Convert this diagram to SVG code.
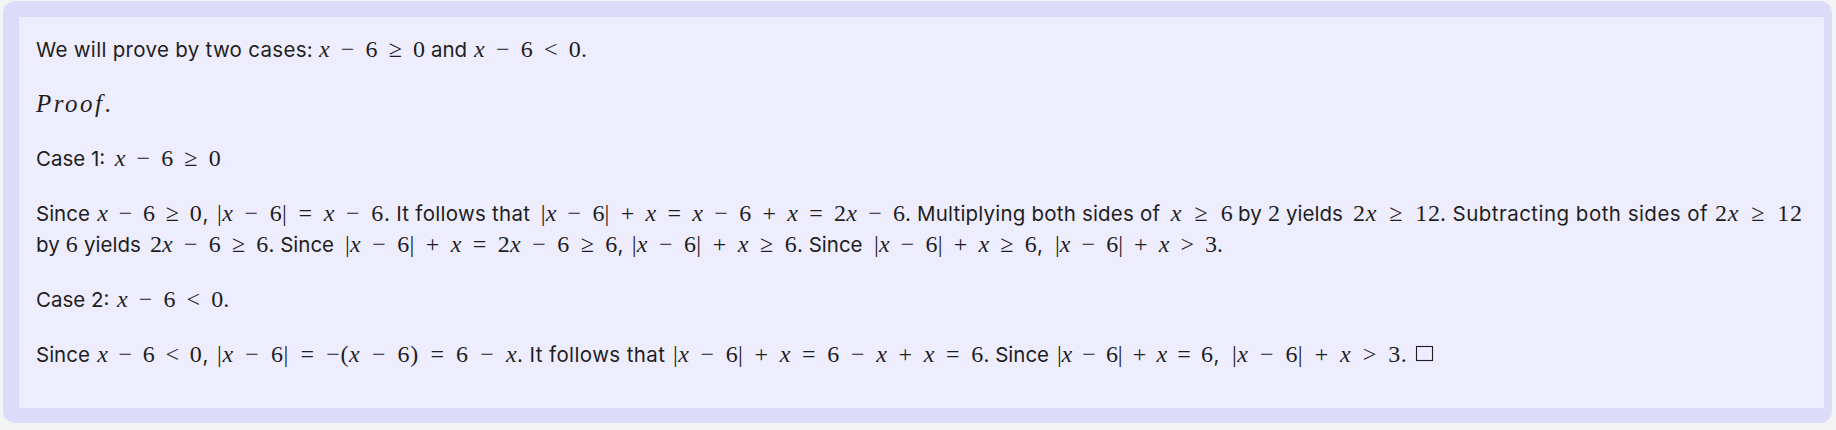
<svg xmlns="http://www.w3.org/2000/svg" width="1836" height="430" viewBox="0 0 1836 430">
<style>
.t{font-family:Inter,"Liberation Sans",sans-serif;font-size:20.5px;fill:#1e1e1e}
.m{font-family:"Liberation Serif",serif;font-size:24px;fill:#1e1e1e;word-spacing:5px}
.i{font-style:italic}
</style>
<rect x="0" y="0" width="1836" height="430" fill="#f3f3f3"/>
<g id="frame">
<rect x="3" y="1" width="1829" height="422" rx="12" fill="#dcdcfa"/>
<rect x="19" y="17" width="1805" height="391" fill="#eeedfe"/>
</g>
<g id="line1">
<text class="t" x="36" y="57" textLength="276.7" lengthAdjust="spacing">We will prove by two cases:</text>
<text class="m" x="319" y="57" textLength="106" lengthAdjust="spacing"><tspan class="i">x</tspan> − 6 ≥ 0</text>
<text class="t" x="431" y="57">and</text>
<text class="m" x="474" y="57" textLength="113" lengthAdjust="spacing"><tspan class="i">x</tspan> − 6 &lt; 0.</text>
</g>
<g id="proof">
<text class="m" x="36" y="111.5" style="font-size:25px" textLength="74.7" lengthAdjust="spacing"><tspan class="i">Proof</tspan>.</text>
</g>
<g id="case1">
<text class="t" x="36" y="165.5">Case 1:</text>
<text class="m" x="114.7" y="165.5" textLength="106" lengthAdjust="spacing"><tspan class="i">x</tspan> − 6 ≥ 0</text>
</g>
<g id="case1-body">
<text class="t" x="36" y="220.7">Since</text>
<text class="m" x="97.3" y="220.7" textLength="104.4" lengthAdjust="spacing"><tspan class="i">x</tspan> − 6 ≥ 0</text>
<text class="t" x="202.5" y="220.7">,</text>
<text class="m" x="217" y="220.7" textLength="166.3" lengthAdjust="spacing">|<tspan class="i">x</tspan> − 6| = <tspan class="i">x</tspan> − 6</text>
<text class="t" x="384" y="220.7" textLength="146" lengthAdjust="spacing">. It follows that</text>
<text class="m" x="540.7" y="220.7" textLength="364.3" lengthAdjust="spacing">|<tspan class="i">x</tspan> − 6| + <tspan class="i">x</tspan> = <tspan class="i">x</tspan> − 6 + <tspan class="i">x</tspan> = 2<tspan class="i">x</tspan> − 6</text>
<text class="t" x="905" y="220.7" textLength="255" lengthAdjust="spacing">. Multiplying both sides of</text>
<text class="m" x="1170.7" y="220.7" textLength="62" lengthAdjust="spacing"><tspan class="i">x</tspan> ≥ 6</text>
<text class="t" x="1238" y="220.7">by</text>
<text class="m" x="1268" y="220.7">2</text>
<text class="t" x="1286" y="220.7">yields</text>
<text class="m" x="1353" y="220.7" textLength="87" lengthAdjust="spacing">2<tspan class="i">x</tspan> ≥ 12</text>
<text class="t" x="1440" y="220.7" textLength="267.7" lengthAdjust="spacing">. Subtracting both sides of</text>
<text class="m" x="1715" y="220.7" textLength="87" lengthAdjust="spacing">2<tspan class="i">x</tspan> ≥ 12</text>

<text class="t" x="36" y="251.7">by</text>
<text class="m" x="65.7" y="251.7">6</text>
<text class="t" x="84" y="251.7">yields</text>
<text class="m" x="150" y="251.7" textLength="118.3" lengthAdjust="spacing">2<tspan class="i">x</tspan> − 6 ≥ 6</text>
<text class="t" x="268.5" y="251.7">. Since</text>
<text class="m" x="345" y="251.7" textLength="272.3" lengthAdjust="spacing">|<tspan class="i">x</tspan> − 6| + <tspan class="i">x</tspan> = 2<tspan class="i">x</tspan> − 6 ≥ 6</text>
<text class="t" x="617.5" y="251.7">,</text>
<text class="m" x="631.7" y="251.7" textLength="165" lengthAdjust="spacing">|<tspan class="i">x</tspan> − 6| + <tspan class="i">x</tspan> ≥ 6</text>
<text class="t" x="797" y="251.7">. Since</text>
<text class="m" x="874" y="251.7" textLength="162.7" lengthAdjust="spacing">|<tspan class="i">x</tspan> − 6| + <tspan class="i">x</tspan> ≥ 6</text>
<text class="t" x="1037" y="251.7">,</text>
<text class="m" x="1055" y="251.7" textLength="162" lengthAdjust="spacing">|<tspan class="i">x</tspan> − 6| + <tspan class="i">x</tspan> &gt; 3</text>
<text class="t" x="1217" y="251.7">.</text>
</g>
<g id="case2">
<text class="t" x="36" y="306.7">Case 2:</text>
<text class="m" x="117" y="306.7" textLength="112.3" lengthAdjust="spacing"><tspan class="i">x</tspan> − 6 &lt; 0.</text>
</g>
<g id="case2-body">
<text class="t" x="36" y="361.7">Since</text>
<text class="m" x="97.3" y="361.7" textLength="104.4" lengthAdjust="spacing"><tspan class="i">x</tspan> − 6 &lt; 0</text>
<text class="t" x="202.5" y="361.7">,</text>
<text class="m" x="217" y="361.7" textLength="299.7" lengthAdjust="spacing">|<tspan class="i">x</tspan> − 6| = −(<tspan class="i">x</tspan> − 6) = 6 − <tspan class="i">x</tspan></text>
<text class="t" x="517" y="361.7" textLength="148" lengthAdjust="spacing">. It follows that</text>
<text class="m" x="673" y="361.7" textLength="310.3" lengthAdjust="spacing">|<tspan class="i">x</tspan> − 6| + <tspan class="i">x</tspan> = 6 − <tspan class="i">x</tspan> + <tspan class="i">x</tspan> = 6</text>
<text class="t" x="983.5" y="361.7">. Since</text>
<text class="m" x="1057" y="361.7" textLength="156" lengthAdjust="spacing">|<tspan class="i">x</tspan> − 6| + <tspan class="i">x</tspan> = 6</text>
<text class="t" x="1213.5" y="361.7">,</text>
<text class="m" x="1232" y="361.7" textLength="174.7" lengthAdjust="spacing">|<tspan class="i">x</tspan> − 6| + <tspan class="i">x</tspan> &gt; 3.</text>
<rect x="1416.5" y="346.5" width="16" height="14" fill="none" stroke="#1e1e1e" stroke-width="1.1"/>
</g>
</svg>
